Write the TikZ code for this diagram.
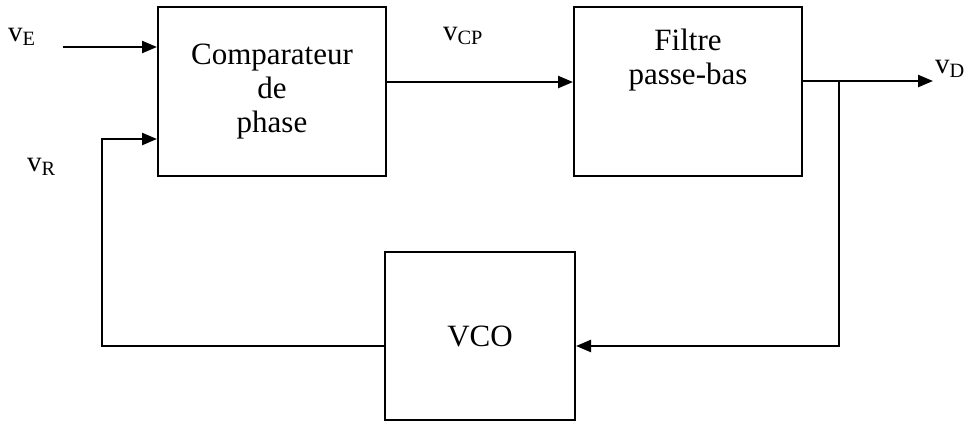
\documentclass[tikz,border=0pt]{standalone}
\usepackage{fontspec}
\setmainfont{Liberation Serif}
\usetikzlibrary{arrows.meta,calc}
\begin{document}
\begin{tikzpicture}[x=1pt,y=-1pt,
  txt/.style={font=\fontsize{31}{34}\selectfont},
  blk/.style={draw,line width=2pt,rectangle,inner sep=0pt,align=center,txt},
  wire/.style={line width=2.4pt},
  arr/.style={wire,-{Triangle[length=15pt,width=12pt]}},
  lbl/.style={inner sep=0pt,anchor=base west,font=\fontsize{29}{30}\selectfont}]
\useasboundingbox (0,0) rectangle (971,421);
\node[blk,minimum width=228pt,minimum height=169pt] (cmp) at (272,91.5) {Comparateur\\de\\phase};
\node[blk,minimum width=228pt,minimum height=169pt] (flt) at (688,91.5) {};
\node[inner sep=0pt,align=center,txt,anchor=base] (flttxt) at (688,84) {Filtre\\passe-bas};
\node[blk,minimum width=190pt,minimum height=168pt] (vco) at (480,336) {VCO};
% coordinates
\coordinate (ein) at (63,47);
\coordinate (c82) at (0,82);
\coordinate (c81) at (0,81);
\coordinate (tap) at (839,81);
\coordinate (dout) at (933,81);
\coordinate (lb) at (102,346);
\coordinate (rb) at (839,346);
\coordinate (lt) at (102,139);
% connectors
\draw[arr] (ein) -- (ein -| cmp.west);
\draw[arr] (cmp.east |- c82) -- (flt.west |- c82);
\draw[arr] (flt.east |- c81) -- (dout);
\draw[arr] (tap) -- (rb) -- (rb -| vco.east);
\draw[arr] (lb -| vco.west) -- (lb) -- (lt) -- (lt -| cmp.west);
% labels
\node[lbl] (vE) at (8,41) {v\textsubscript{E}};
\node[lbl] (vR) at (27,171) {v\textsubscript{R}};
\node[lbl] (vCP) at (443,40) {v\textsubscript{CP}};
\node[lbl] (vD) at (935,73) {v\textsubscript{D}};
\end{tikzpicture}
\end{document}
